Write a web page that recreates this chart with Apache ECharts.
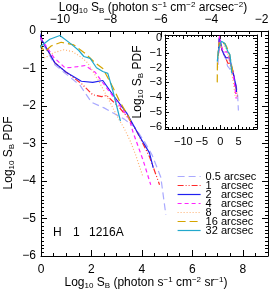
<!DOCTYPE html>
<html><head><meta charset="utf-8">
<script src="https://cdn.jsdelivr.net/npm/echarts@6/dist/echarts.min.js"></script>
<style>html,body{margin:0;padding:0;background:#fff}#c{width:274px;height:292px}</style>
</head><body><div id="c"></div>
<script>
// ---- data (x = Log10 SB [photon s-1 cm-2 sr-1], y = Log10 PDF) ----
const seriesNames = ['0.5 arcsec','1   arcsec','2   arcsec','4   arcsec','8   arcsec','16 arcsec','32 arcsec'];
const s05 = [[-0.6,-1.8],[-0.3,-0.1],[-0.15,0.05],[0,-0.25],[0.55,-0.9],[1.0,-1.15],[1.55,-1.45],[2.0,-1.9],[2.5,-2.05],[2.9,-2.2],[3.3,-2.35],[3.7,-2.55],[4.1,-2.95],[4.4,-3.3],[4.75,-3.9],[4.95,-4.9]];
const s1  = [[-0.5,-1.2],[-0.2,0.05],[0,-0.2],[0.55,-0.85],[1.0,-1.1],[1.6,-1.4],[2.05,-1.7],[2.4,-1.75],[2.6,-1.72],[3.05,-2.0],[3.5,-2.35],[3.8,-2.68],[4.3,-3.35],[4.7,-4.1]];
const s2  = [[-0.5,-1.0],[-0.25,0.0],[-0.1,0.05],[0,-0.2],[0.55,-0.85],[1.0,-1.1],[1.6,-1.34],[2.05,-1.37],[2.45,-1.32],[2.85,-1.7],[3.4,-2.19],[3.9,-2.8],[4.3,-3.25],[4.45,-3.65]];
const s4  = [[-0.4,-1.0],[-0.2,0.15],[0,-0.2],[0.5,-0.7],[0.95,-0.98],[1.2,-0.97],[1.45,-0.95],[1.75,-0.92],[2.15,-1.1],[2.45,-1.38],[3.05,-1.92],[3.5,-2.35],[3.65,-2.7],[4.05,-3.45],[4.35,-4.1]];
const s8  = [[-0.7,-2.0],[-0.3,-0.3],[0,-0.45],[0.15,-0.72],[0.5,-0.58],[0.9,-0.5],[1.25,-0.55],[1.6,-0.7],[1.85,-0.85],[2.3,-1.35],[2.7,-1.85],[3.0,-2.25],[3.3,-2.6],[3.55,-2.95],[3.75,-3.3],[3.9,-3.6],[4.05,-3.9]];
const s16 = [[-0.8,-3.0],[-0.75,-1.5],[-0.3,-0.3],[0,-0.4],[0.15,-0.55],[0.4,-0.4],[0.8,-0.3],[1.3,-0.37],[1.75,-0.6],[2.15,-0.85],[2.45,-1.0],[2.85,-1.5],[3.1,-1.85],[3.4,-2.2],[3.55,-2.4]];
const s32 = [[-0.8,-1.6],[-0.5,-0.9],[0,-0.4],[0.35,-0.22],[0.75,-0.12],[1.2,-0.35],[1.5,-0.52],[1.7,-0.68],[1.95,-0.73],[2.2,-0.98],[2.45,-1.08],[2.65,-1.13],[2.85,-1.6],[3.15,-2.4]];
const mainXTicks = [0,2,4,6,8];
const topXTicks = [-10,-8,-6,-4,-2];
const topOffset = 10.75;
const mainYTicks = [0,-1,-2,-3,-4,-5,-6];
const insetXTicks = [-15,-10,-5,0,5];
const insetYTicks = [0,-1,-2,-3,-4,-5,-6];

const allData = [s05,s1,s2,s4,s8,s16,s32];
const colors = ['#a9a9ff','#ff2a2a','#2020f0','#ff22ff','#ffb070','#d4a400','#22a8cc'];
const types = [[7,4],[6,2,1,2,1,2],'solid',[4,3],[1,2],[8,4],'solid'];

const FONT = 'Liberation Sans, Arial, sans-serif';
const fmt = v => { const r = Math.round(v*100)/100; return r < 0 ? '\u2212' + Math.abs(r) : String(r); };
function range(a, b, step){ const out=[]; for(let v=a; v<=b+1e-9; v+=step) out.push(Math.round(v*1000)/1000); return out; }

function axis(kind, grid, pos, min, max, ticks, len, labels, showLine, labelOpts){
  return {
    type:'value', gridIndex:grid, position:pos, min:min, max:max,
    axisLine:{show:showLine, onZero:false, lineStyle:{color:'#000', width:1}},
    axisTick:{show:true, inside:true, length:len, customValues:ticks, lineStyle:{color:'#000', width:1}},
    axisLabel:Object.assign({show:!!labels, customValues:labels||[], formatter:fmt, color:'#000', fontSize:12, fontFamily:FONT}, labelOpts||{}),
    splitLine:{show:false}, minorTick:{show:false}
  };
}

const gMain = {left:41, top:31, width:227, height:225};
const gIn = {left:165, top:35, width:92, height:94};
const grids = [gMain, gMain, gIn, gIn].map(g => Object.assign({containLabel:false}, g));

const xAxes = [
  axis('x',0,'bottom',0,9,mainXTicks,6,mainXTicks,true,{margin:8}),
  axis('x',0,'top',0,9,topXTicks.map(v=>v+topOffset),6,topXTicks.map(v=>v+topOffset),true,{margin:5, formatter:v=>fmt(v-topOffset)}),
  axis('x',1,'bottom',0,9,range(0,9,0.5),3,null,false),
  axis('x',1,'top',0,9,range(0.25,9,0.5),3,null,false),
  axis('x',2,'bottom',-15,10,insetXTicks,4,insetXTicks,true,{margin:7, fontSize:11}),
  axis('x',2,'top',-15,10,insetXTicks,4,null,true),
  axis('x',3,'bottom',-15,10,range(-15,10,1),2,null,false),
  axis('x',3,'top',-15,10,range(-15,10,1),2,null,false)
];
const yAxes = [
  axis('y',0,'left',-6,0,mainYTicks,6,mainYTicks,true,{margin:5}),
  axis('y',0,'right',-6,0,mainYTicks,6,null,true),
  axis('y',1,'left',-6,0,range(-6,0,0.1),3,null,false),
  axis('y',1,'right',-6,0,range(-6,0,0.1),3,null,false),
  axis('y',2,'left',-6.15,0.2,insetYTicks,4,insetYTicks,true,{margin:3, fontSize:11}),
  axis('y',2,'right',-6.15,0.2,insetYTicks,4,null,true),
  axis('y',3,'left',-6.15,0.2,range(-6,0,0.2),2,null,false),
  axis('y',3,'right',-6.15,0.2,range(-6,0,0.2),2,null,false)
];

const series = [];
allData.forEach((d,i) => {
  [[0,0],[4,4]].forEach(([xi,yi]) => {
    series.push({type:'line', name:seriesNames[i], data:d, xAxisIndex:xi, yAxisIndex:yi,
      symbol:'none', clip:true, silent:true,
      lineStyle:{color:colors[i], width:1.2, type:types[i]}, itemStyle:{color:colors[i]}});
  });
});

const richT = {
  n:{fontSize:12, fontFamily:FONT, fill:'#000', lineHeight:14},
  s:{fontSize:8, fontFamily:FONT, fill:'#000', lineHeight:14, verticalAlign:'bottom', padding:[4,0,0,0]},
  p:{fontSize:8, fontFamily:FONT, fill:'#000', lineHeight:14, verticalAlign:'top', padding:[0,0,5,0]}
};
function title(text, x, y, rot){
  return {type:'text', x:x, y:y, rotation:rot||0, silent:true,
    style:{text:text, rich:richT, align:'center', verticalAlign:'middle', fontSize:12, fontFamily:FONT, fill:'#000'}};
}
const ytxt = '{n|Log}{s|10}{n| S}{s|B}{n| PDF}';
const graphic = [
  title('{n|Log}{s|10}{n| S}{s|B}{n| (photon s}{p|\u22121}{n| cm}{p|\u22122}{n| arcsec}{p|\u22122}{n|)}', 153, 8),
  title('{n|Log}{s|10}{n| S}{s|B}{n| (photon s}{p|\u22121}{n| cm}{p|\u22122}{n| sr}{p|\u22121}{n|)}', 146, 283),
  title(ytxt, 9, 153, Math.PI/2),
  title(ytxt, 138, 82, Math.PI/2),
  {type:'text', x:53, y:233, silent:true, style:{text:'H', fontSize:12, fontFamily:FONT, fill:'#000', verticalAlign:'middle'}},
  {type:'text', x:73, y:233, silent:true, style:{text:'1', fontSize:12, fontFamily:FONT, fill:'#000', verticalAlign:'middle'}},
  {type:'text', x:89, y:233, silent:true, style:{text:'1216A', fontSize:12, fontFamily:FONT, fill:'#000', verticalAlign:'middle'}}
];

const chart = echarts.init(document.getElementById('c'), null, {renderer:'canvas'});
chart.setOption({
  animation:false,
  backgroundColor:'#fff',
  grid:grids, xAxis:xAxes, yAxis:yAxes, series:series, graphic:graphic,
  legend:{orient:'vertical', left:177, top:171, itemWidth:23, itemHeight:8, itemGap:-2,
    data:seriesNames, selectedMode:false, padding:0,
    itemStyle:{opacity:0, borderWidth:0},
    lineStyle:{width:1.2},
    textStyle:{fontSize:11, fontFamily:FONT, color:'#000'}}
});
</script></body></html>
